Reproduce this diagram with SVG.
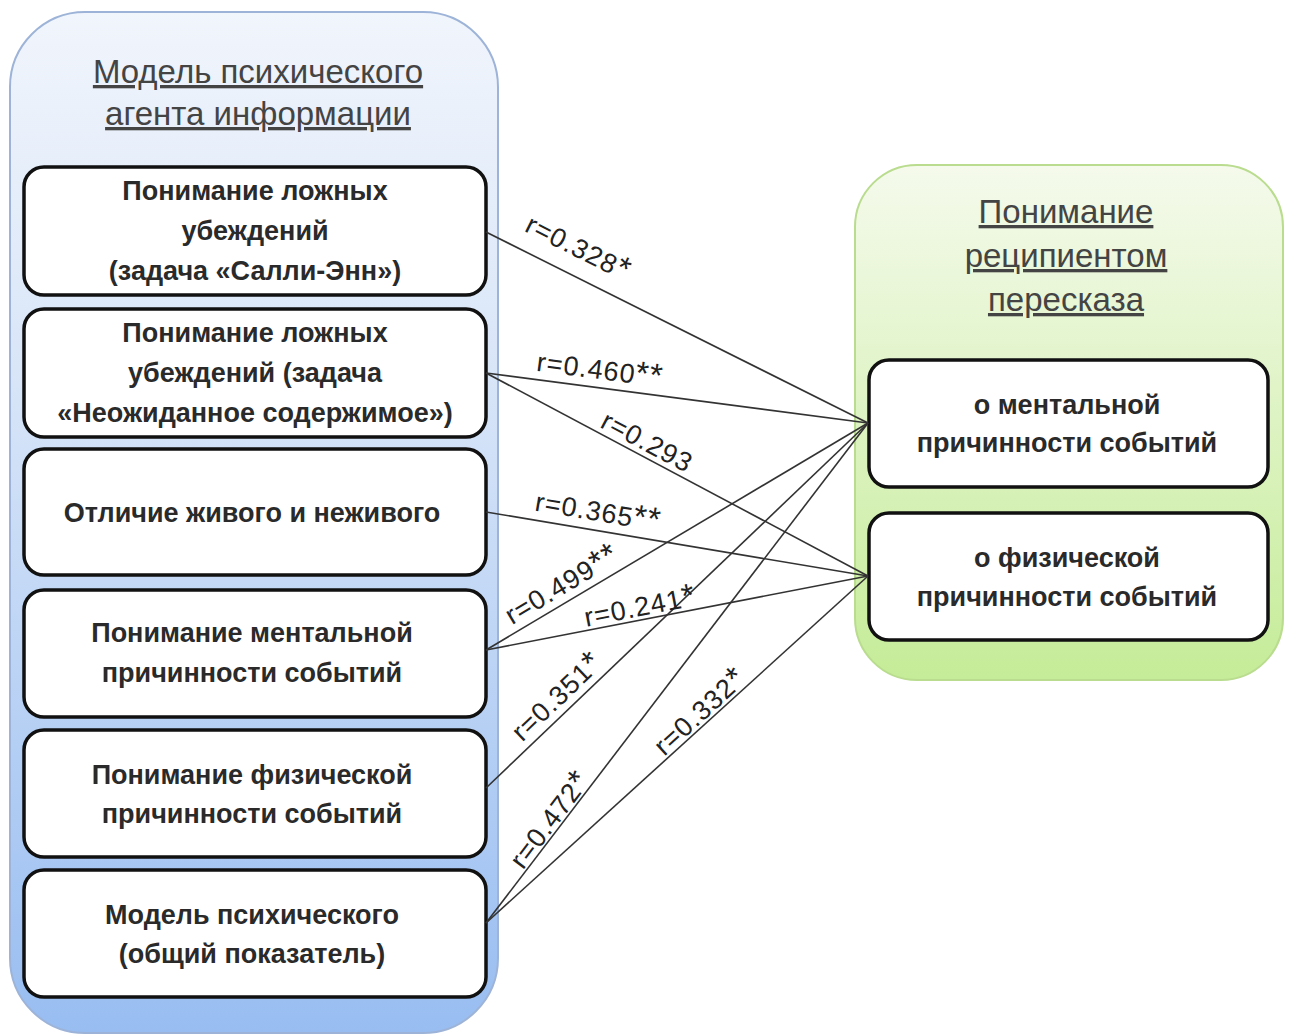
<svg xmlns="http://www.w3.org/2000/svg" width="1291" height="1036" viewBox="0 0 1291 1036">
<defs>
<linearGradient id="gBlue" x1="0" y1="0" x2="0" y2="1">
<stop offset="0" stop-color="#f1f5fc"/>
<stop offset="0.35" stop-color="#d9e6f8"/>
<stop offset="1" stop-color="#98bdf1"/>
</linearGradient>
<linearGradient id="gGreen" x1="0" y1="0" x2="0" y2="1">
<stop offset="0" stop-color="#f5faec"/>
<stop offset="1" stop-color="#c5ec98"/>
</linearGradient>
</defs>
<style>
.box{fill:#ffffff;stroke:#111;stroke-width:3.5}
.t{font-family:"Liberation Sans",Arial,sans-serif;font-size:27px;font-weight:bold;fill:#2a2a2a;text-anchor:middle}
.h{font-family:"Liberation Sans",Arial,sans-serif;font-size:33px;fill:#444;text-anchor:middle;text-decoration:underline}
.c{stroke:#333;stroke-width:1.6;fill:none}
.l{font-family:"Liberation Sans",Arial,sans-serif;font-size:27px;fill:#222;text-anchor:middle;letter-spacing:1px}
.s{font-size:33px}
</style>
<rect width="1291" height="1036" fill="#ffffff"/>

<g id="left-group">
<rect x="10" y="12" width="488" height="1021" rx="75" ry="75" fill="url(#gBlue)" stroke="#9db4d8" stroke-width="2"/>
<text class="h" x="258" y="83">Модель психического</text>
<text class="h" x="258" y="125">агента информации</text>
</g>

<g id="right-group">
<rect x="855" y="165" width="428" height="515" rx="62" ry="62" fill="url(#gGreen)" stroke="#b9dc8e" stroke-width="2"/>
<text class="h" x="1066" y="223">Понимание</text>
<text class="h" x="1066" y="267">реципиентом</text>
<text class="h" x="1066" y="311">пересказа</text>
</g>

<g id="n1"><rect class="box" x="24" y="167" width="462" height="128" rx="20"/>
<text class="t" x="255" y="200">Понимание ложных</text>
<text class="t" x="255" y="240">убеждений</text>
<text class="t" x="255" y="280">(задача «Салли-Энн»)</text></g>

<g id="n2"><rect class="box" x="24" y="309" width="462" height="128" rx="20"/>
<text class="t" x="255" y="342">Понимание ложных</text>
<text class="t" x="255" y="382">убеждений (задача</text>
<text class="t" x="255" y="422">«Неожиданное содержимое»)</text></g>

<g id="n3"><rect class="box" x="24" y="449" width="462" height="126" rx="20"/>
<text class="t" x="252" y="522">Отличие живого и неживого</text></g>

<g id="n4"><rect class="box" x="24" y="590" width="462" height="127" rx="20"/>
<text class="t" x="252" y="642">Понимание ментальной</text>
<text class="t" x="252" y="682">причинности событий</text></g>

<g id="n5"><rect class="box" x="24" y="730" width="462" height="127" rx="20"/>
<text class="t" x="252" y="784">Понимание физической</text>
<text class="t" x="252" y="823">причинности событий</text></g>

<g id="n6"><rect class="box" x="24" y="870" width="462" height="127" rx="20"/>
<text class="t" x="252" y="924">Модель психического</text>
<text class="t" x="252" y="963">(общий показатель)</text></g>

<g id="m1"><rect class="box" x="869" y="360" width="399" height="127" rx="20"/>
<text class="t" x="1067" y="414">о ментальной</text>
<text class="t" x="1067" y="452">причинности событий</text></g>

<g id="m2"><rect class="box" x="869" y="513" width="399" height="127" rx="20"/>
<text class="t" x="1067" y="567">о физической</text>
<text class="t" x="1067" y="606">причинности событий</text></g>

<g id="connectors">
<line class="c" x1="486" y1="232" x2="868" y2="423"/>
<line class="c" x1="486" y1="373" x2="868" y2="423"/>
<line class="c" x1="486" y1="373" x2="868" y2="576"/>
<line class="c" x1="486" y1="512" x2="868" y2="576"/>
<line class="c" x1="486" y1="650" x2="868" y2="423"/>
<line class="c" x1="486" y1="650" x2="868" y2="576"/>
<line class="c" x1="486" y1="788" x2="868" y2="423"/>
<line class="c" x1="486" y1="923" x2="868" y2="423"/>
<line class="c" x1="486" y1="923" x2="868" y2="576"/>
<text class="l" transform="translate(578,248) rotate(26.6)" y="9">r=0.328<tspan class="s">*</tspan></text>
<text class="l" transform="translate(600,370) rotate(7.5)" y="9">r=0.460<tspan class="s">**</tspan></text>
<text class="l" transform="translate(647,442) rotate(28)" y="9">r=0.293</text>
<text class="l" transform="translate(598,512) rotate(9.5)" y="9">r=0.365<tspan class="s">**</tspan></text>
<text class="l" transform="translate(562,585) rotate(-30.8)" y="9">r=0.499<tspan class="s">**</tspan></text>
<text class="l" transform="translate(640,607) rotate(-11)" y="9">r=0.241<tspan class="s">*</tspan></text>
<text class="l" transform="translate(557,697) rotate(-43.7)" y="9">r=0.351<tspan class="s">*</tspan></text>
<text class="l" transform="translate(550,820) rotate(-52.8)" y="9">r=0.472<tspan class="s">*</tspan></text>
<text class="l" transform="translate(700,712) rotate(-42.4)" y="9">r=0.332<tspan class="s">*</tspan></text>
</g>
</svg>
